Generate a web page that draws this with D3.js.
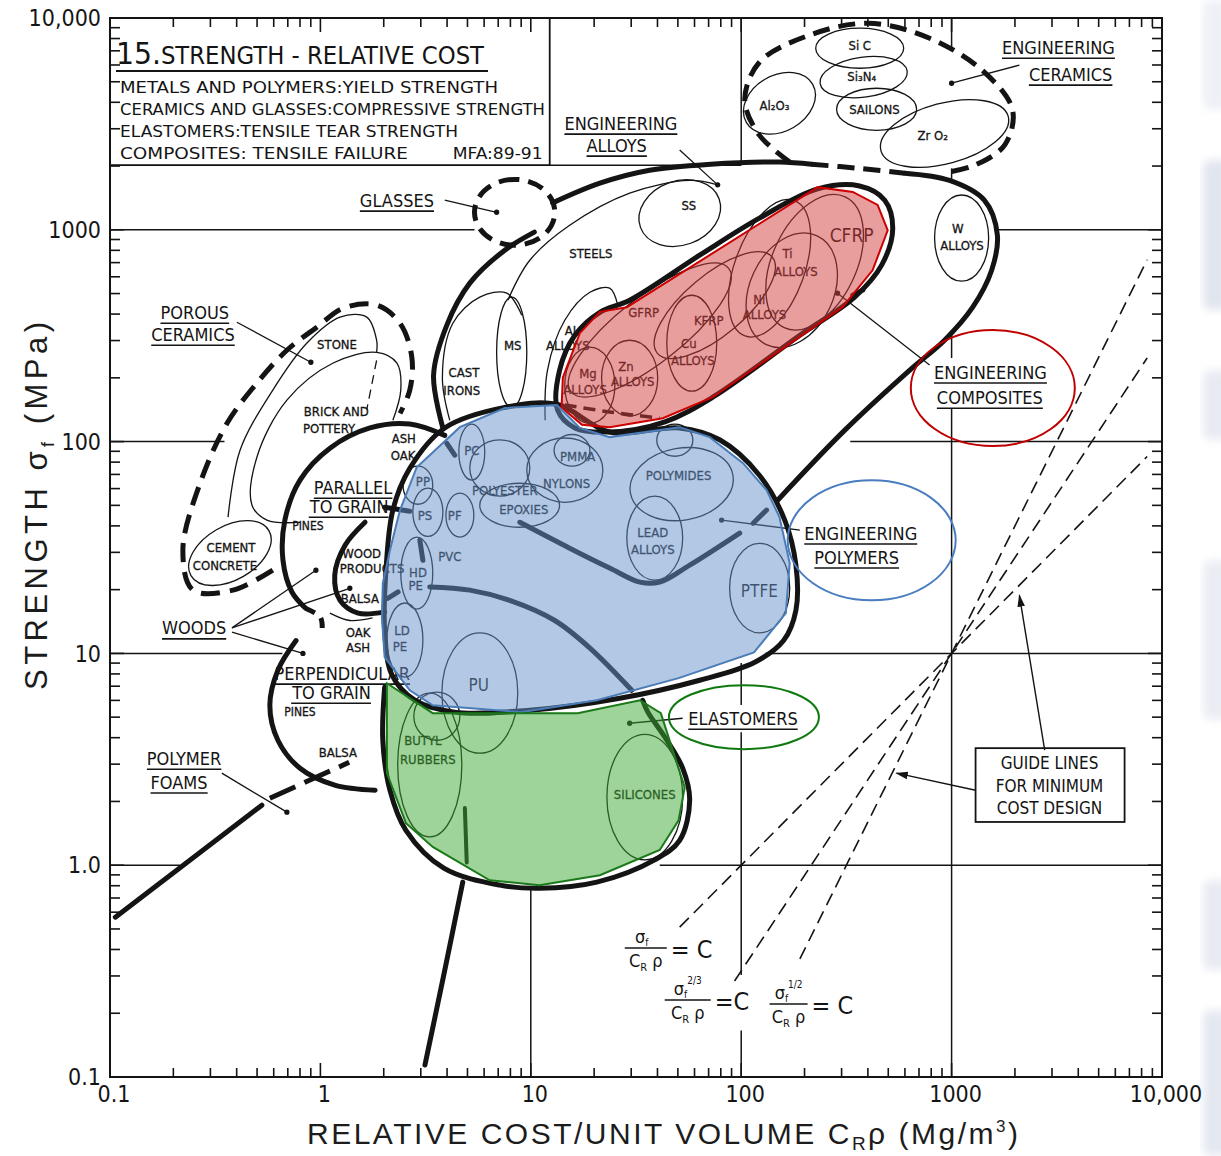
<!DOCTYPE html>
<html>
<head>
<meta charset="utf-8">
<script src="https://cdn.jsdelivr.net/npm/d3@7"></script>
<style>
  body { margin: 0; background: #fff; }
  svg { display: block; }
  text { font-family: "DejaVu Sans Condensed", "Liberation Sans Narrow", "DejaVu Sans", sans-serif; font-stretch: condensed; fill: #141414; }
  .mat { stroke: #141414; stroke-width: 0.3; }
  .axisnum { font-family: "Liberation Sans Narrow", "DejaVu Sans Condensed", sans-serif; }
  .axistitle { font-family: "Liberation Sans", "DejaVu Sans", sans-serif; font-stretch: normal; fill: #1c1c1c; }
</style>
</head>
<body>
<svg id="chart" width="1221" height="1156"></svg>
<script>
// ---------------- axes ----------------
const costDomain = [0.1, 10000];
const strengthDomain = [0.1, 10000];
const costTicks = [0.1, 1, 10, 100, 1000, 10000];
const costTickLabels = ["0.1", "1", "10", "100", "1000", "10,000"];
const strengthTicks = [0.1, 1, 10, 100, 1000, 10000];
const strengthTickLabels = ["0.1", "1.0", "10", "100", "1000", "10,000"];

// ---------------- grid segments [cost, strength] ----------------
const gridH = [
  [[0.1, 1000], [5.4, 1000]], [[1650, 1000], [10000, 1000]],
  [[0.1, 100], [0.35, 100]], [[330, 100], [10000, 100]],
  [[0.1, 10], [0.66, 10]], [[130, 10], [10000, 10]],
  [[0.1, 1], [0.215, 1]], [[41, 1], [10000, 1]],
  [[12.3, 2020], [100, 2020]]
];
const gridV = [
  [[100, 10000], [100, 2020]],
  [[100, 9.0], [100, 5.7]], [[100, 4.24], [100, 0.303]], [[100, 0.166], [100, 0.1]],
  [[1000, 10000], [1000, 7300]], [[1000, 1950], [1000, 1720]],
  [[1000, 318], [1000, 248]], [[1000, 144], [1000, 0.1]],
  [[10, 0.78], [10, 0.1]]
];
const titleBox = [[0.1, 10000], [12.3, 2020]];

// ---------------- field envelopes [cost, strength] ----------------
const alloysLeft = [[3.82, 116], [3.45, 206], [3.99, 355], [5.13, 560], [7.52, 801], [10.4, 975]];
const alloysTop = [[12.7, 1340], [21.3, 1660], [36.7, 1910], [71.6, 2040], [152, 2090], [216, 2040]];
const alloysTopDashed = [[216, 2040], [365, 1950], [598, 1850]];
const alloysRight = [[598, 1850], [978, 1710], [1430, 1380], [1650, 944], [1550, 644], [1260, 431], [926, 301], [631, 217], [310, 113], [149, 52.9]];
const composites = [[13.4, 141], [13.7, 217], [16.2, 318], [21.3, 408], [29.5, 465], [63.5, 759], [122, 1135], [231, 1560], [365, 1610], [481, 1380], [525, 1010], [465, 681], [346, 481], [190, 318], [73.2, 162], [43.4, 124], [23.7, 111], [16.2, 116]];
const compositeDashed = [[14.5, 149], [23.7, 138], [41.0, 129]];
const polymersEnv = [[3.90, 116], [7.52, 145], [13.3, 150], [23.7, 111], [51.0, 116], [79.0, 102], [122, 69.4], [161, 42.6], [182, 26.1], [182, 16.0], [159, 11.5], [116, 9.08], [63.5, 7.47], [26.5, 6.14], [9.89, 5.39], [4.35, 5.28], [2.81, 6.01], [2.19, 7.89], [2.02, 12.9], [2.05, 24.7], [2.21, 47.5], [2.66, 74.8]];
const elastomerEnv = [[2.02, 6.92], [1.98, 3.89], [2.14, 2.26], [2.55, 1.46], [3.86, 0.968], [7.12, 0.805], [11.0, 0.778], [20.6, 0.832], [38.8, 1.06], [51.0, 1.31], [56.9, 2.03], [52.7, 2.87], [43.4, 4.02], [36.0, 5.28], [34.0, 6.01]];
const woodsParallel = [[3.90, 107], [2.66, 121], [1.72, 116], [1.11, 93.1], [0.800, 65.8], [0.678, 42.6], [0.664, 27.5], [0.732, 19.5], [0.853, 16.3]];
const woodsLink = [[0.853, 16.3], [1.0, 14.8], [1.02, 13.0]];
const woodProducts = [[1.63, 41.6], [1.31, 32.4], [1.17, 23.4], [1.24, 17.8], [1.51, 15.5], [2.02, 15.7]];
const woodsPerpendicular = [[0.766, 11.5], [0.628, 8.33], [0.575, 5.69], [0.628, 3.89], [0.800, 2.87], [1.17, 2.39], [1.82, 2.26]];
const foamsSolid = [[0.106, 0.568], [0.527, 1.92]];
const foamsDashed = [[0.575, 2.07], [1.37, 3.06]];
const foamsStem = [[3.14, 0.114], [3.90, 0.319], [4.75, 0.832]];
const foamsStemInner = [[4.86, 1.86], [4.96, 1.03]];
const polymerRidgeA = [[8.87, 41.6], [15.3, 31.4], [23.7, 25.3], [33.0, 21.7], [41.0, 21.7], [56.9, 26.1], [98.4, 37.0]];
const polymerRidgeA2 = [[114, 41.2], [132, 47.5]];
const polymerRidgeB = [[3.31, 20.6], [5.13, 19.9], [7.94, 17.8], [13.0, 14.3], [19.1, 10.6], [30.2, 6.70]];
const shortThick = [
  [[3.99, 98.2], [4.35, 86.3]],
  [[2.97, 34.2], [3.07, 27.5]],
  [[2.02, 49.0], [2.66, 46.9]],
  [[2.09, 18.2], [2.34, 19.5]],
  [[339, 491], [378, 519]]
];
const ceramicsEnv = [[170, 2090], [122, 2800], [104, 4090], [122, 6180], [211, 8300], [403, 9440], [786, 8030], [1430, 5550], [1950, 3670], [1790, 2520], [1290, 2020], [957, 1870]];
const porousEnv = [[0.594, 24.7], [0.384, 19.9], [0.248, 19.9], [0.222, 30.7], [0.268, 63.6], [0.360, 122], [0.499, 189], [0.693, 270], [0.962, 347], [1.28, 426], [1.85, 441], [2.39, 362], [2.72, 250], [2.66, 175], [2.39, 136]];
const glassesBubble = [[5.4, 13.0], [846, 1730]];

// thin open boundaries inside the fields
const steelsCurve = [[7.78, 465], [9.89, 718], [15.3, 1050], [29.5, 1490], [56.9, 1710], [77.3, 1630]];
const alCurve = [[11.7, 126], [12.0, 217], [14.5, 374], [19.1, 507], [23.7, 530], [25.9, 441]];
const castIronCurve = [[4.12, 126], [3.80, 201], [4.26, 362], [5.72, 481], [7.69, 502], [9.06, 395]];
const stoneCurve = [[0.364, 44.0], [0.415, 91.0], [0.594, 175], [0.863, 292], [1.24, 387], [1.66, 387], [1.85, 301], [1.85, 264]];
const stoneDashed = [[1.85, 242], [1.66, 141]];
const brickCurve = [[0.800, 41.6], [0.557, 42.6], [0.473, 50.1], [0.499, 84.4], [0.693, 157], [1.15, 235], [1.85, 264], [2.31, 235], [2.41, 175], [2.21, 126]];
const balsaArc = [[1.11, 15.5], [1.38, 14.3], [1.77, 14.7]];

// material bubbles: [name, [cost lo, hi], [strength lo, hi]]
const ceramicBubbles = [
  ["SiC", [226, 592], [5790, 8950]],
  ["Si3N4", [236, 618], [4230, 6530]],
  ["Al2O3", [100, 231], [2920, 5370]],
  ["Sailons", [284, 682], [2950, 4660]],
  ["ZrO2", [450, 1905], [2050, 3960]]
];
const metalBubbles = [
  ["W alloys", [830, 1500], [572, 1460]],
  ["SS", [32.3, 80.7], [846, 1700]],
  ["MS", [6.88, 9.57], [145, 481]],
  ["Mg alloys", [14.5, 25.1], [122, 279]],
  ["Zn alloys", [21.7, 40.1], [132, 301]],
  ["Cu alloys", [44.3, 76.5], [173, 491]],
  ["Ti alloys", [93.1, 200], [301, 1440]],
  ["Ni alloys", [110, 275], [270, 995]]
];
const compositeBubbles = [
  ["GFRP", [12.3, 110], [235, 481]],
  ["KFRP", [33, 170], [318, 611]],
  ["CFRP", [141, 354], [321, 1540]]
];
const polymerBubbles = [
  ["PC", [4.55, 6.04], [65.8, 121]],
  ["PP", [2.47, 3.42], [50.6, 76.6]],
  ["PS", [2.75, 3.82], [35.7, 60.3]],
  ["PF", [3.95, 5.36], [35.4, 57.1]],
  ["HDPE", [2.41, 3.42], [16.2, 35.4]],
  ["LDPE", [2.07, 3.07], [7.72, 17.3]],
  ["PU", [3.78, 8.67], [3.38, 12.5]],
  ["PMMA", [12.9, 19.1], [76.6, 108]],
  ["Polyester", [5.13, 9.89], [55.3, 102]],
  ["Epoxies", [5.72, 13.7], [39.4, 63.6]],
  ["Nylons", [9.57, 22.0], [51.7, 104]],
  ["Polymides", [29.5, 92.1], [42.6, 93.1]],
  ["Acetal", [39.7, 58.9], [85.3, 121]],
  ["Lead alloys", [28.6, 52.7], [22.2, 55.3]],
  ["PTFE", [88.1, 170], [12.5, 33.1]]
];
const elastomerBubbles = [
  ["Butyl rubbers", [2.33, 4.70], [1.36, 6.49]],
  ["Natural rubber", [2.78, 4.60], [3.89, 6.56]],
  ["Silicones", [23.0, 52.7], [1.06, 4.15]]
];
const porousBubbles = [
  ["Cement", [0.227, 0.608], [22.2, 39.9]]
];
// tilt of a bubble's long axis, degrees on screen
const bubbleTilt = { "Si3N4": -8, "Al2O3": -30, "ZrO2": -15, "SS": -20, "Ti alloys": 20, "Ni alloys": 25, "GFRP": -38, "KFRP": -40, "CFRP": 25, "Polymides": -10, "Cement": -30 };

// highlighted classes (translucent overlays)
const compositeHighlight = [[14.0, 145], [17.5, 120], [23.7, 117], [42.4, 129], [73.2, 162], [303, 431], [421, 644], [497, 995], [445, 1310], [339, 1510], [231, 1590], [28.6, 431], [21.3, 410], [17.1, 325], [14.2, 201]];
const polymerHighlight = [[13.3, 149], [7.52, 144], [4.60, 117], [2.87, 75.7], [2.39, 47.5], [2.14, 30.7], [1.98, 21.4], [1.96, 14.8], [2.02, 9.6], [2.66, 6.70], [3.42, 5.69], [8.97, 5.28], [20.6, 6.01], [50.4, 7.64], [115, 10.1], [163, 15.5], [170, 26.7], [152, 44.0], [132, 59.0], [102, 79.1], [70.8, 105], [51.0, 117], [23.7, 105], [17.1, 116]];
const elastomerHighlight = [[2.07, 7.23], [3.42, 5.22], [16.7, 5.22], [33.0, 6.01], [41.5, 5.22], [53.9, 2.33], [50.4, 1.63], [41.0, 1.18], [21.3, 0.897], [11.0, 0.805], [6.38, 0.849], [3.42, 1.22], [2.55, 1.58], [2.07, 2.72]];
const labelRings = [
  { name: "composites", at: [1570, 179] },
  { name: "polymers", at: [417, 34.2] },
  { name: "elastomers", at: [103, 5.0] }
];

// ---------------- labels [text, cost, strength] ----------------
const groupLabels = [
  ["ENGINEERING", 26.8, 3190], ["ALLOYS", 25.6, 2510],
  ["ENGINEERING", 3220, 7280], ["CERAMICS", 3680, 5430],
  ["GLASSES", 2.31, 1380],
  ["POROUS", 0.253, 408], ["CERAMICS", 0.248, 321],
  ["WOODS", 0.251, 13.2],
  ["PARALLEL", 1.43, 60.9], ["TO GRAIN", 1.37, 49.5],
  ["PERPENDICULAR", 1.27, 8.07], ["TO GRAIN", 1.13, 6.56],
  ["ENGINEERING", 1530, 213], ["COMPOSITES", 1520, 162],
  ["ENGINEERING", 370, 37.0], ["POLYMERS", 354, 28.5],
  ["ELASTOMERS", 102, 4.94],
  ["POLYMER", 0.225, 3.20], ["FOAMS", 0.213, 2.47]
];
const materialLabels = [
  ["Si C", 366, 7450], ["Si\u2083N\u2084", 374, 5310], ["Al\u2082O\u2083", 144, 3870], ["SAILONS", 430, 3710], ["Zr O\u2082", 813, 2800],
  ["W", 1070, 1020], ["ALLOYS", 1120, 846],
  ["SS", 56.4, 1310], ["STEELS", 19.3, 776],
  ["Ti", 166, 776], ["ALLOYS", 182, 638], ["Ni", 122, 470], ["ALLOYS", 129, 399],
  ["GFRP", 34.4, 408], ["KFRP", 70.1, 374], ["Cu", 56.4, 292], ["ALLOYS", 58.9, 242],
  ["AL", 15.7, 336], ["ALLOYS", 15.0, 285], ["Mg", 18.7, 210], ["ALLOYS", 18.1, 177], ["Zn", 28.3, 227], ["ALLOYS", 30.5, 193],
  ["MS", 8.21, 285], ["CAST", 4.81, 213], ["IRONS", 4.70, 175],
  ["STONE", 1.20, 288], ["BRICK AND", 1.19, 139], ["POTTERY", 1.10, 116],
  ["ASH", 2.49, 104], ["OAK", 2.47, 86.3],
  ["CEMENT", 0.376, 31.7], ["CONCRETE", 0.352, 26.1],
  ["WOOD", 1.57, 29.7], ["PRODUCTS", 1.76, 25.3], ["BALSA", 1.54, 18.2],
  ["OAK", 1.51, 12.6], ["ASH", 1.51, 10.7], ["BALSA", 1.21, 3.42],
  ["PC", 5.25, 91.0], ["PP", 3.07, 65.0], ["PS", 3.14, 45.0], ["PF", 4.35, 45.0], ["PVC", 4.12, 28.8],
  ["HD", 2.91, 24.2], ["PE", 2.84, 21.0], ["LD", 2.44, 12.9], ["PE", 2.39, 10.8],
  ["POLYESTER", 7.52, 59.0], ["EPOXIES", 9.26, 48.0], ["PMMA", 16.7, 85.3], ["NYLONS", 14.8, 63.6],
  ["POLYMIDES", 50.4, 69.4], ["LEAD", 38.0, 37.4], ["ALLOYS", 38.0, 31.0],
  ["BUTYL", 3.07, 3.89], ["RUBBERS", 3.24, 3.17], ["SILICONES", 34.8, 2.16],
  ["PINES", 0.872, 40.3], ["PINES", 0.800, 5.28]
];
const bigLabels = [["CFRP", 335, 943], ["PTFE", 122, 19.7], ["PU", 5.66, 7.08]];

// leaders from labels to fields: [from, to]
const leaders = [
  [[51.0, 2380], [77.3, 1630]],
  [[2100, 5990], [1000, 4920]],
  [[3.90, 1380], [6.88, 1210]],
  [[0.401, 366], [0.901, 237]],
  [[0.380, 13.2], [0.952, 24.7]],
  [[0.380, 13.2], [1.38, 20.3]],
  [[0.380, 12.6], [0.826, 10.0]],
  [[786, 230], [287, 502]],
  [[190, 38.2], [80.7, 42.6]],
  [[52.7, 4.94], [29.5, 4.68]],
  [[0.340, 2.72], [0.693, 1.78]]
];

// guide lines for minimum-cost design (all pass through cost 1000, strength 10)
const guideLines = [
  { sup: "", pts: [[51, 0.51], [8500, 85]], label: [35.2, 0.406] },
  { sup: "2/3", pts: [[93, 0.284], [8500, 248]], label: [55.7, 0.231] },
  { sup: "1/2", pts: [[190, 0.361], [8500, 722]], label: [168, 0.221] }
];
const guideBox = [[1300, 3.57], [6640, 1.60]];
const guideBoxText = [["GUIDE LINES", 2920, 3.03], ["FOR MINIMUM", 2920, 2.36], ["COST DESIGN", 2920, 1.86]];
const guideArrows = [
  [[2770, 3.49], [2100, 18.8]],
  [[1300, 2.26], [547, 2.72]]
];

const titleLines = [
  "METALS AND POLYMERS:YIELD STRENGTH",
  "CERAMICS AND GLASSES:COMPRESSIVE STRENGTH",
  "ELASTOMERS:TENSILE TEAR STRENGTH",
  "COMPOSITES: TENSILE FAILURE"
];

// ---------------- drawing ----------------
const svg = d3.select("#chart");
const X = d3.scaleLog().domain(costDomain).range([110, 1162]);
const Y = d3.scaleLog().domain(strengthDomain).range([1077, 18]);

svg.append("rect").attr("width", 1221).attr("height", 1156).attr("fill", "#fff");

// faint page marks along the right margin of the sheet
const defs = svg.append("defs");
defs.append("filter").attr("id", "soft").append("feGaussianBlur").attr("stdDeviation", 4);
const margin = svg.append("g").attr("filter", "url(#soft)").attr("fill", "#d9deea");
[[0, 110, 0.45], [160, 150, 0.8], [370, 70, 0.6], [560, 160, 0.55], [880, 90, 0.6], [1010, 146, 0.7]]
  .forEach(m => margin.append("rect").attr("x", 1203).attr("y", m[0]).attr("width", 26).attr("height", m[1])
    .attr("rx", 8).attr("opacity", m[2]));

const lineOpen = d3.line().x(d => X(d[0])).y(d => Y(d[1])).curve(d3.curveCatmullRom.alpha(0.5));
const lineClosed = d3.line().x(d => X(d[0])).y(d => Y(d[1])).curve(d3.curveCatmullRomClosed.alpha(0.5));
const lineStraight = d3.line().x(d => X(d[0])).y(d => Y(d[1]));
const polygon = d3.line().x(d => X(d[0])).y(d => Y(d[1])).curve(d3.curveLinearClosed);
const ovalCurve = d3.line().curve(d3.curveCardinalClosed.tension(-0.657));

function bubblePath(b) {
  const x0 = X(b[1][0]), x1 = X(b[1][1]), y0 = Y(b[2][0]), y1 = Y(b[2][1]);
  const cx = (x0 + x1) / 2, cy = (y0 + y1) / 2, rx = (x1 - x0) / 2, ry = Math.abs(y0 - y1) / 2;
  const a = (bubbleTilt[b[0]] || 0) * Math.PI / 180;
  const pts = [[rx, 0], [0, -ry], [-rx, 0], [0, ry]].map(([u, v]) =>
    [cx + u * Math.cos(a) - v * Math.sin(a), cy + u * Math.sin(a) + v * Math.cos(a)]);
  return ovalCurve(pts);
}

const INK = "#141414";

// grid
const grid = svg.append("g").attr("stroke", INK).attr("stroke-width", 1.5).attr("fill", "none");
gridH.concat(gridV).forEach(s => grid.append("path").attr("d", lineStraight(s)));

// title box
const tb = svg.append("g");
tb.append("rect")
  .attr("x", X(titleBox[0][0])).attr("y", Y(titleBox[0][1]))
  .attr("width", X(titleBox[1][0]) - X(titleBox[0][0]))
  .attr("height", Y(titleBox[1][1]) - Y(titleBox[0][1]))
  .attr("fill", "#fff").attr("stroke", INK).attr("stroke-width", 1.8);
const tx = X(titleBox[0][0]);
const ty = Y(titleBox[0][1]);
const tt = tb.append("text").attr("x", tx + 6).attr("y", ty + 46)
  .attr("textLength", 368).attr("lengthAdjust", "spacingAndGlyphs");
tt.append("tspan").attr("font-size", 31).text("15.");
tt.append("tspan").attr("font-size", 25).text("STRENGTH - RELATIVE COST");
tb.append("line").attr("x1", tx + 6).attr("x2", tx + 378).attr("y1", ty + 53).attr("y2", ty + 53)
  .attr("stroke", INK).attr("stroke-width", 1.8);
const lineW = [378, 425, 338, 288];
titleLines.forEach((t, i) => {
  tb.append("text").attr("x", tx + 10).attr("y", ty + 75 + i * 22)
    .attr("font-size", 16.5).attr("textLength", lineW[i]).attr("lengthAdjust", "spacingAndGlyphs").text(t);
});
tb.append("text").attr("x", X(titleBox[1][0]) - 7).attr("y", ty + 141).attr("text-anchor", "end")
  .attr("font-size", 16.5).attr("textLength", 90).attr("lengthAdjust", "spacingAndGlyphs").text("MFA:89-91");

// thin bubbles and boundaries
const thin = svg.append("g").attr("stroke", INK).attr("stroke-width", 1.3).attr("fill", "none");
ceramicBubbles.concat(metalBubbles, compositeBubbles, polymerBubbles, elastomerBubbles, porousBubbles)
  .forEach(b => thin.append("path").attr("d", bubblePath(b)));
[steelsCurve, alCurve, castIronCurve, stoneCurve, brickCurve, balsaArc]
  .forEach(c => thin.append("path").attr("d", lineOpen(c)));
thin.append("path").attr("d", lineOpen(stoneDashed)).attr("stroke-dasharray", "9,6");

// thick field envelopes
const thick = svg.append("g").attr("stroke", INK).attr("stroke-width", 5).attr("fill", "none")
  .attr("stroke-linecap", "round").attr("stroke-linejoin", "round");
[alloysLeft, alloysTop, alloysRight, elastomerEnv, woodsParallel, woodProducts, woodsPerpendicular,
  foamsSolid, foamsStem, polymerRidgeA, polymerRidgeA2, polymerRidgeB].concat(shortThick)
  .forEach(c => thick.append("path").attr("d", lineOpen(c)));
thick.append("path").attr("d", lineOpen(foamsStemInner)).attr("stroke-width", 4);
[composites, polymersEnv].forEach(c => thick.append("path").attr("d", lineClosed(c)));

// dashed envelopes
const dashed = svg.append("g").attr("stroke", INK).attr("stroke-width", 5).attr("fill", "none")
  .attr("stroke-dasharray", "17,9");
dashed.append("path").attr("d", lineOpen(alloysTopDashed));
dashed.append("path").attr("d", lineOpen(ceramicsEnv));
dashed.append("path").attr("d", lineOpen(porousEnv)).attr("stroke-dasharray", "19,10");
dashed.append("path").attr("d", lineOpen(foamsDashed)).attr("stroke-dasharray", "28,10");
dashed.append("path").attr("d", lineOpen(woodsLink)).attr("stroke-dasharray", "10,8");
dashed.append("path").attr("d", lineOpen(compositeDashed)).attr("stroke-width", 3.5).attr("stroke-dasharray", "12,7");
dashed.append("path").attr("d", bubblePath(["Glasses", glassesBubble[0], glassesBubble[1]])).attr("stroke-dasharray", "16,9");

// leaders
const lead = svg.append("g").attr("stroke", INK).attr("stroke-width", 1.3);
leaders.forEach(l => {
  lead.append("path").attr("d", lineStraight(l));
  lead.append("circle").attr("cx", X(l[1][0])).attr("cy", Y(l[1][1])).attr("r", 2).attr("fill", INK);
});

// labels
const lab = svg.append("g").attr("text-anchor", "middle");
groupLabels.forEach(d => {
  const t = lab.append("text").attr("x", X(d[1])).attr("y", Y(d[2])).attr("dy", "0.36em")
    .attr("font-size", 18).text(d[0]);
  const bb = t.node().getBBox();
  lab.append("line").attr("x1", bb.x).attr("x2", bb.x + bb.width)
    .attr("y1", Y(d[2]) + 11).attr("y2", Y(d[2]) + 11).attr("stroke", INK).attr("stroke-width", 1.6);
});
materialLabels.forEach(d => {
  lab.append("text").attr("class", "mat").attr("x", X(d[1])).attr("y", Y(d[2])).attr("dy", "0.36em")
    .attr("font-size", d[0] === "PINES" ? 12 : 13).text(d[0]);
});
bigLabels.forEach(d => {
  lab.append("text").attr("x", X(d[1])).attr("y", Y(d[2])).attr("dy", "0.36em")
    .attr("font-size", d[0] === "CFRP" ? 19 : 17).text(d[0]);
});

// guide lines
const guide = svg.append("g");
guideLines.forEach(g => {
  guide.append("path").attr("d", lineStraight(g.pts)).attr("stroke", INK).attr("stroke-width", 1.6)
    .attr("stroke-dasharray", "13,7").attr("fill", "none");
  const gx = X(g.label[0]), gy = Y(g.label[1]);
  const half = g.sup === "" ? 21 : (g.sup === "2/3" ? 23 : 19);
  const f = guide.append("g").attr("transform", `translate(${gx},${gy})`);
  f.append("line").attr("x1", -half).attr("x2", half).attr("y1", 0).attr("y2", 0).attr("stroke", INK).attr("stroke-width", 1.5);
  const num = f.append("text").attr("x", g.sup === "" ? -4 : 0).attr("y", -5).attr("text-anchor", "middle").attr("font-size", 18);
  num.append("tspan").text("\u03c3");
  num.append("tspan").attr("font-size", 10).attr("dy", 3).text("f");
  if (g.sup) num.append("tspan").attr("font-size", 10).attr("dy", -14).text(g.sup);
  const den = f.append("text").attr("x", 0).attr("y", 19).attr("text-anchor", "middle").attr("font-size", 18);
  den.append("tspan").text("C");
  den.append("tspan").attr("font-size", 11).attr("dy", 4).text("R");
  den.append("tspan").attr("dy", -4).text(" \u03c1");
  f.append("text").attr("x", half + 4).attr("y", 10).attr("font-size", 25).text(g.sup === "2/3" ? "=C" : "= C");
});
guide.append("rect").attr("x", X(guideBox[0][0])).attr("y", Y(guideBox[0][1]))
  .attr("width", X(guideBox[1][0]) - X(guideBox[0][0])).attr("height", Y(guideBox[1][1]) - Y(guideBox[0][1]))
  .attr("fill", "#fff").attr("stroke", INK).attr("stroke-width", 1.8);
guideBoxText.forEach(d => guide.append("text").attr("x", X(d[1])).attr("y", Y(d[2])).attr("dy", "0.36em")
  .attr("text-anchor", "middle").attr("font-size", 17).text(d[0]));
defs.append("marker").attr("id", "arrow").attr("viewBox", "0 0 10 10").attr("refX", 9).attr("refY", 5)
  .attr("markerWidth", 9).attr("markerHeight", 9).attr("orient", "auto-start-reverse")
  .append("path").attr("d", "M0,2 L10,5 L0,8 Z").attr("fill", INK);
guideArrows.forEach(a => guide.append("path").attr("d", lineStraight(a)).attr("stroke", INK)
  .attr("stroke-width", 1.4).attr("marker-end", "url(#arrow)"));

// translucent class highlights
const hl = svg.append("g");
hl.append("path").attr("d", polygon(compositeHighlight)).attr("fill", "rgb(212,62,62)").attr("fill-opacity", 0.5)
  .attr("stroke", "#cc0000").attr("stroke-width", 2);
hl.append("path").attr("d", polygon(polymerHighlight)).attr("fill", "rgb(104,146,202)").attr("fill-opacity", 0.5)
  .attr("stroke", "#4a7cb8").attr("stroke-width", 2);
hl.append("path").attr("d", polygon(elastomerHighlight)).attr("fill", "rgb(62,168,54)").attr("fill-opacity", 0.5)
  .attr("stroke", "#1a7a1a").attr("stroke-width", 2);
const ringStyle = { composites: ["#c00000", 82, 58], polymers: ["#4a7cc0", 84, 60], elastomers: ["#107a10", 75, 32] };
labelRings.forEach(r => {
  const s = ringStyle[r.name];
  hl.append("ellipse").attr("cx", X(r.at[0])).attr("cy", Y(r.at[1])).attr("rx", s[1]).attr("ry", s[2])
    .attr("fill", "none").attr("stroke", s[0]).attr("stroke-width", 2);
});

// frame and ticks
const fr = svg.append("g").attr("stroke", INK);
fr.append("rect").attr("x", X(costDomain[0])).attr("y", Y(strengthDomain[1]))
  .attr("width", X(costDomain[1]) - X(costDomain[0])).attr("height", Y(strengthDomain[0]) - Y(strengthDomain[1]))
  .attr("fill", "none").attr("stroke-width", 2);
const isMajor = v => Math.abs(Math.log10(v) - Math.round(Math.log10(v))) < 1e-9;
X.ticks().forEach(v => {
  const len = isMajor(v) ? 14 : 9;
  fr.append("line").attr("x1", X(v)).attr("x2", X(v)).attr("y1", Y(strengthDomain[0])).attr("y2", Y(strengthDomain[0]) - len).attr("stroke-width", 1.6);
  fr.append("line").attr("x1", X(v)).attr("x2", X(v)).attr("y1", Y(strengthDomain[1])).attr("y2", Y(strengthDomain[1]) + len).attr("stroke-width", 1.6);
});
Y.ticks().forEach(v => {
  const len = isMajor(v) ? 14 : 10;
  fr.append("line").attr("y1", Y(v)).attr("y2", Y(v)).attr("x1", X(costDomain[0])).attr("x2", X(costDomain[0]) + len).attr("stroke-width", 1.6);
  fr.append("line").attr("y1", Y(v)).attr("y2", Y(v)).attr("x1", X(costDomain[1])).attr("x2", X(costDomain[1]) - len).attr("stroke-width", 1.6);
});
const ax = svg.append("g");
costTicks.forEach((v, i) => ax.append("text").attr("class", "axisnum").attr("x", X(v) + 4).attr("y", 1102)
  .attr("text-anchor", "middle").attr("font-size", 23).text(costTickLabels[i]));
strengthTicks.forEach((v, i) => ax.append("text").attr("class", "axisnum").attr("x", 101).attr("y", Y(v)).attr("dy", "0.36em")
  .attr("text-anchor", "end").attr("font-size", 23).text(strengthTickLabels[i]));

// axis titles
const xt = ax.append("text").attr("class", "axistitle").attr("x", 307).attr("y", 1144).attr("font-size", 30)
  .attr("textLength", 711).attr("lengthAdjust", "spacing");
xt.append("tspan").text("RELATIVE  COST/UNIT VOLUME  C");
xt.append("tspan").attr("font-size", 19).attr("dy", 6).text("R");
xt.append("tspan").attr("dy", -6).text("\u03c1  (Mg/m");
xt.append("tspan").attr("font-size", 17).attr("dy", -12).text("3");
xt.append("tspan").attr("dy", 12).text(")");

const yt = ax.append("text").attr("class", "axistitle").attr("transform", "translate(47,690) rotate(-90)")
  .attr("font-size", 31).attr("textLength", 368).attr("lengthAdjust", "spacing");
yt.append("tspan").text("STRENGTH   \u03c3");
yt.append("tspan").attr("font-size", 18).attr("dy", 7).text("f");
yt.append("tspan").attr("dy", -7).text("   (MPa)");
</script>
</body>
</html>
